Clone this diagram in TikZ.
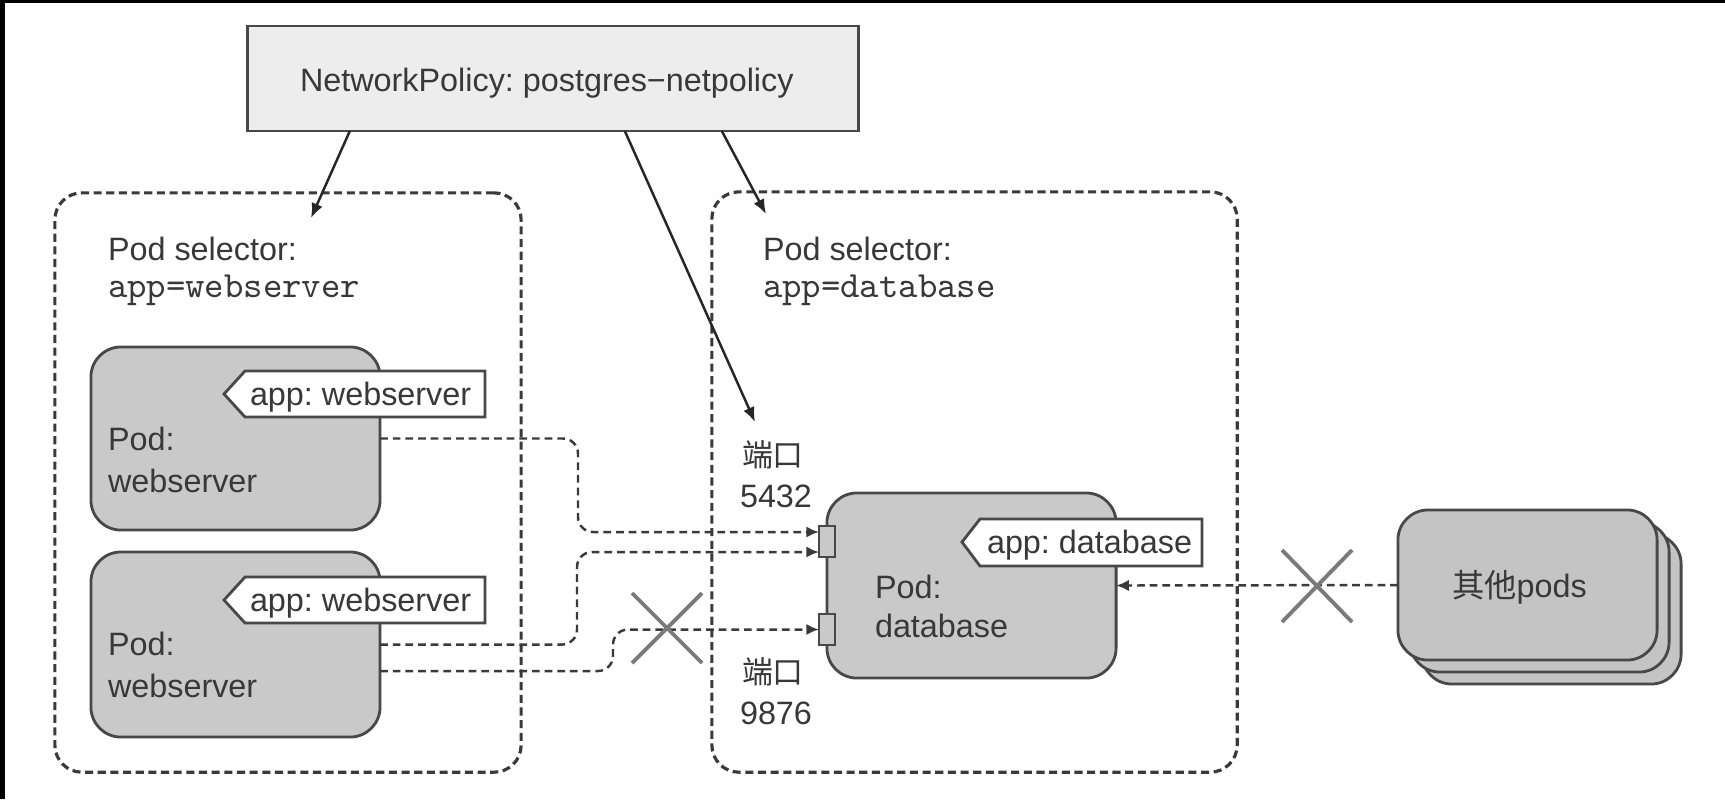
\documentclass[tikz,border=0pt]{standalone}
\usepackage{fontspec}
\setmainfont{Liberation Sans}
\newfontfamily\cjk{Noto Sans CJK SC}
\usetikzlibrary{calc,arrows.meta}
\definecolor{txt}{HTML}{383838}
\definecolor{bord}{HTML}{484848}
\definecolor{podfill}{HTML}{C9C9C9}
\definecolor{otherfill}{HTML}{C4C4C4}
\definecolor{npfill}{HTML}{EDEDED}
\definecolor{dashc}{HTML}{3A3A3A}
\definecolor{xgray}{HTML}{7A7A7A}
\frenchspacing
\begin{document}
\begin{tikzpicture}[x=0.01cm,y=-0.01cm,
  every node/.style={inner sep=0pt, outer sep=0pt, font=\fontsize{9.2}{11}\selectfont, text=txt},
  npbox/.style={draw=bord, fill=npfill, line width=0.8pt},
  selbox/.style={draw=dashc, line width=0.9pt, dash pattern=on 2.3pt off 1.3pt, rounded corners=0.27cm},
  podbox/.style={draw=bord, fill=podfill, line width=0.8pt, rounded corners=0.3cm},
  otherbox/.style={draw=bord, fill=otherfill, line width=0.8pt, rounded corners=0.3cm},
  portbox/.style={draw=bord, fill=podfill, line width=0.7pt},
  tagshape/.style={draw=bord, fill=white, line width=0.8pt},
  lbl/.style={anchor=base west},
  monotext/.style={anchor=base west, font=\ttfamily\fontsize{10.5}{12}\selectfont},
  conn/.style={draw=dashc, line width=0.7pt, dash pattern=on 2.2pt off 1.4pt, rounded corners=0.15cm, -{Latex[length=3.6pt,width=3.2pt]}},
  pol/.style={draw=black!85, line width=0.7pt, -{Latex[length=4.2pt,width=3.4pt]}},
  xmark/.style={draw=xgray, line width=1.1pt}
]
\useasboundingbox (0,0) rectangle (1725,799);
\fill[white] (0,0) rectangle (1725,799);
% scan border
\fill[black] (0,0) rectangle (1725,2.5);
\fill[black] (0,0) rectangle (5,799);

% NetworkPolicy box
\node[npbox, minimum width=6.10cm, minimum height=1.05cm] (np) at (553,78.5) {};
\node[lbl] (nptext) at (300,91) {NetworkPolicy: postgres\char"2212 netpolicy};

% selector boxes
\node[selbox, minimum width=4.66cm, minimum height=5.79cm] (selL) at (288,482.5) {};
\node[selbox, minimum width=5.25cm, minimum height=5.80cm] (selR) at (974.5,482) {};
\node[lbl] (selLt1) at (108,260) {Pod selector:};
\node[monotext] (selLt2) at (108,297) {app=webserver};
\node[lbl] (selRt1) at (763,260) {Pod selector:};
\node[monotext] (selRt2) at (763,297) {app=database};

% webserver pods
\node[podbox, minimum width=2.89cm, minimum height=1.83cm] (p1) at (235.5,438.5) {};
\node[podbox, minimum width=2.89cm, minimum height=1.85cm] (p2) at (235.5,644.5) {};
\draw[tagshape] (224,394) -- (245,371) -- (485,371) -- (485,417) -- (245,417) -- cycle;
\draw[tagshape] (224,600) -- (245,577) -- (485,577) -- (485,623) -- (245,623) -- cycle;
\node[lbl] (t1) at (250,405) {app: webserver};
\node[lbl] (t2) at (250,611) {app: webserver};
\node[lbl] (p1a) at (108,450) {Pod:};
\node[lbl] (p1b) at (108,492) {webserver};
\node[lbl] (p2a) at (108,655) {Pod:};
\node[lbl] (p2b) at (108,697) {webserver};

% database pod
\node[podbox, minimum width=2.89cm, minimum height=1.85cm] (db) at (971.5,585.5) {};
\draw[tagshape] (962,542) -- (980,519) -- (1202,519) -- (1202,566) -- (980,566) -- cycle;
\node[lbl] (tdb) at (987,553) {app: database};
\node[lbl] (dba) at (875,598) {Pod:};
\node[lbl] (dbb) at (875,637) {database};
\node[portbox, minimum width=0.16cm, minimum height=0.31cm] (port1) at (827,541.5) {};
\node[portbox, minimum width=0.16cm, minimum height=0.31cm] (port2) at (827,629.5) {};

% port labels
\node[lbl] (l1a) at (742,466) {\cjk\fontsize{8.8}{10}\selectfont 端口};
\node[lbl] (l1b) at (740,507) {5432};
\node[lbl] (l2a) at (742,683) {\cjk\fontsize{8.8}{10}\selectfont 端口};
\node[lbl] (l2b) at (740,724) {9876};

% other pods
\node[otherbox, minimum width=2.59cm, minimum height=1.50cm] (o3) at (1551.5,609) {};
\node[otherbox, minimum width=2.59cm, minimum height=1.50cm] (o2) at (1539.5,597) {};
\node[otherbox, minimum width=2.59cm, minimum height=1.50cm] (o1) at (1527.5,585) {};
\node[lbl] (otext) at (1452,597) {{\cjk 其他}pods};

% policy arrows
\coordinate (e1) at (311,218);
\coordinate (e2) at (755,422);
\coordinate (e3) at (766,214);
\draw[pol] ($(np.south west)+(102,0)$) -- (e1);
\draw[pol] ($(np.south west)+(377,0)$) -- (e2);
\draw[pol] ($(np.south west)+(474,0)$) -- (e3);

% traffic connectors
\draw[conn] (p1.east) -- (578,438.5) -- (578,532) -- ($(port1.west)+(0,-9.5)$);
\draw[conn] (p2.east) -- (577,644.5) -- (577,552) -- ($(port1.west)+(0,10.5)$);
\draw[conn] ($(p2.east)+(0,26.5)$) -- (613,671) -- (613,629.5) -- (port2.west);
\draw[conn] (o1.west) -- (db.east);

% blocked marks
\draw[xmark] (632,593) -- (702,663) (632,663) -- (702,593);
\draw[xmark] (1282,550) -- (1352,622) (1282,622) -- (1352,550);
\end{tikzpicture}
\end{document}
